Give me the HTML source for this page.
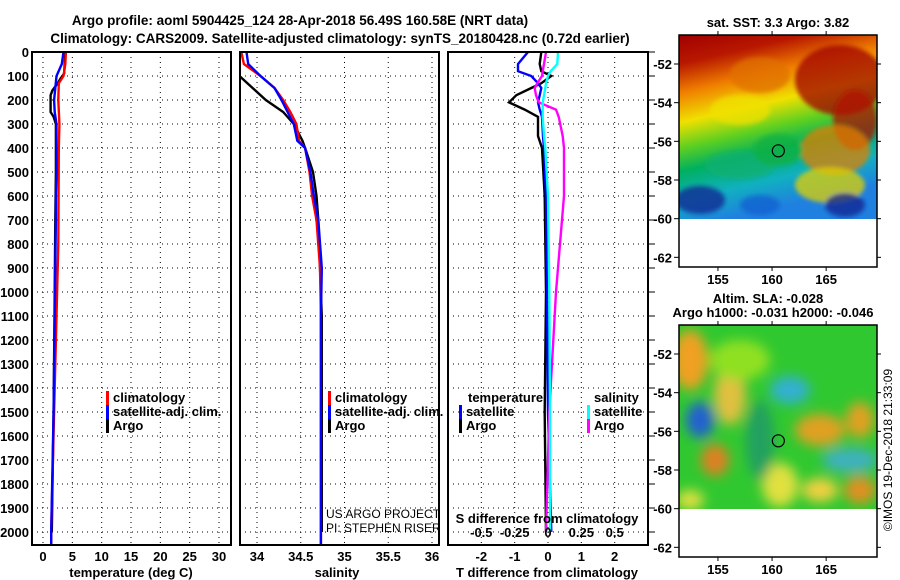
<!DOCTYPE html>
<html><head><meta charset="utf-8"><style>
html,body{margin:0;padding:0;background:#fff;}
svg{display:block;font-family:"Liberation Sans",sans-serif;}
.b{font-weight:bold;}
</style></head><body>
<svg id="fig" width="900" height="580" viewBox="0 0 900 580" xmlns="http://www.w3.org/2000/svg">
<defs>
<filter id="blur" x="-20%" y="-20%" width="140%" height="140%"><feGaussianBlur stdDeviation="6"/></filter>
<filter id="blur2" x="-20%" y="-20%" width="140%" height="140%"><feGaussianBlur stdDeviation="2"/></filter>
<linearGradient id="sstg" x1="0" y1="0" x2="0.25" y2="1">
<stop offset="0" stop-color="#a00000"/><stop offset="0.15" stop-color="#b81800"/>
<stop offset="0.3" stop-color="#f08000"/><stop offset="0.45" stop-color="#f0e000"/>
<stop offset="0.58" stop-color="#60d020"/><stop offset="0.7" stop-color="#00b060"/>
<stop offset="0.85" stop-color="#10b0c0"/><stop offset="1" stop-color="#2080e0"/>
</linearGradient>
<clipPath id="c1"><rect x="679" y="35" width="198" height="184"/></clipPath>
<clipPath id="c2"><rect x="679" y="325" width="198" height="184"/></clipPath>
</defs>
<text class="b" x="300" y="25" font-size="13.5" text-anchor="middle">Argo profile: aoml 5904425_124 28-Apr-2018 56.49S 160.58E (NRT data)</text>
<text class="b" x="340" y="43" font-size="13.5" text-anchor="middle">Climatology: CARS2009. Satellite-adjusted climatology: synTS_20180428.nc (0.72d earlier)</text>
<g id="g"></g>
</svg>
<script>
// ---- data ----
const tDepth = [0,50,90,110,130,160,180,250,270,300,500,700,1000,1500,2000];
const tArgo  = [3.8,3.7,3.6,3.0,2.5,1.6,1.3,1.3,1.8,2.2,2.2,2.1,2.0,1.8,1.5];
const cDepth = [0,50,100,130,200,300,400,800,1000,1500,2000,2050];
const tClim  = [3.9,3.8,3.5,2.7,2.6,2.8,2.7,2.6,2.4,1.9,1.4,1.4];
const sDepth = [0,50,100,150,200,250,300,370,400,500,600,700,900,1100,1500,2000,2050];
const tSat   = [3.5,3.2,2.3,2.1,1.9,2.0,2.3,2.3,2.3,2.3,2.2,2.2,2.1,2.0,1.8,1.4,1.4];
const aDepth = [0,100,150,200,250,300,370,400,500,600,700,900,1100,1500,2000];
const sArgo  = [33.8,33.8,33.95,34.1,34.3,34.42,34.52,34.55,34.64,34.68,34.7,34.72,34.74,34.74,34.74];
const sClim  = [33.82,33.85,34.04,34.2,34.3,34.38,34.45,34.48,34.55,34.6,34.63,34.68,34.72,34.73,34.73,34.73,34.73];
const sSat   = [33.88,33.9,34.04,34.2,34.28,34.35,34.42,34.46,34.55,34.61,34.65,34.7,34.74,34.73,34.73,34.73,34.73];
const dDepth = [0,50,80,100,130,150,180,210,240,270,350,400,600,1000,1500,2000];
const dtArgo = [-0.2,-0.25,-0.2,0.1,-0.2,-0.5,-0.95,-1.17,-0.7,-0.3,-0.3,-0.18,-0.1,-0.06,-0.1,-0.06];
const dtSat  = [-0.6,-0.9,-0.9,-0.5,-0.3,-0.2,-0.25,-0.3,-0.25,-0.18,-0.15,-0.12,-0.06,-0.03,0.0,0.1];
const dsArgo = [-0.015,-0.03,-0.04,-0.045,-0.08,-0.1,-0.09,-0.07,0.06,0.08,0.11,0.12,0.12,0.06,0.01,-0.015];
const dsSat  = [0.075,0.07,0.02,0.0,-0.015,-0.02,-0.03,-0.04,-0.04,-0.04,-0.03,-0.02,0.0,0.01,0.015,0.015];
const depthTicks = [0,100,200,300,400,500,600,700,800,900,1000,1100,1200,1300,1400,1500,1600,1700,1800,1900,2000];
const tTicks = [0,5,10,15,20,25,30];
const sTicks = [34,34.5,35,35.5,36];
const sTickLabels = ["34","34.5","35","35.5","36"];
const dTicks = [-2,-1,0,1,2];
const dsTicks = [-0.5,-0.25,0,0.25,0.5];
const dsTickLabels = ["-0.5","-0.25","0","0.25","0.5"];
const lonTicks = [155,160,165];
const latTicks = [-52,-54,-56,-58,-60,-62];
const floatPos = [160.58,-56.49];

// ---- helpers ----
const NS="http://www.w3.org/2000/svg";
const G=document.getElementById('g');
function mk(tag,attrs,parent){const e=document.createElementNS(NS,tag);for(const k in attrs)e.setAttribute(k,attrs[k]);(parent||G).appendChild(e);return e;}
const Y0=52, YB=545;
function yD(d){return Y0+d*0.2400;}
function linear(d0,d1,r0,r1){return v=>r0+(v-d0)/(d1-d0)*(r1-r0);}
const xT=linear(0,30,43,219);
const xS=linear(34,36,257,432);
const xD=linear(-3,3,448,648);
const xDS=v=>xD(v*4);

function panel(name){
  const g=mk('g',{});
  
  
  return g;
}
function hgrid(g,x0,x1){
  depthTicks.forEach(d=>{
    const l=mk('line',{x1:x0,x2:x1,y1:yD(d),y2:yD(d),stroke:'#000','stroke-width':1,'stroke-dasharray':'1 4'},g);
    
    
  });
}
function vgrid(g,xs){
  xs.forEach(x=>{
    const l=mk('line',{x1:x,x2:x,y1:Y0,y2:YB,stroke:'#000','stroke-width':1,'stroke-dasharray':'1 4'},g);
    
    
  });
}
function frame(g,x0,x1,name){
  const r=mk('rect',{x:x0,y:Y0,width:x1-x0,height:YB-Y0,fill:'none',stroke:'#000','stroke-width':2},g);
  
  
}
function line(g,xs,ds,xf,color,name,clip){
  const pts=xs.map((v,i)=>xf(v).toFixed(1)+','+yD(ds[i]).toFixed(1)).join(' ');
  const p=mk('polyline',{points:pts,fill:'none',stroke:color,'stroke-width':2.4},g);
  if(clip)p.setAttribute('clip-path',clip);
  
  
}
function text(g,x,y,s,opts,name){
  const t=mk('text',Object.assign({x:x,y:y,'font-size':13,'font-weight':'bold'},opts||{}),g);
  t.textContent=s;
  
  
  return t;
}
function legend(g,x,y,items){
  items.forEach((it,i)=>{
    const r=mk('rect',{x:x,y:y+i*14-11,width:3,height:14,fill:it[1]},g);
    
    
    text(g,x+7,y+i*14,it[0],{},'legend-entry-'+it[2]);
  });
}

const defs=document.querySelector('defs');
[['p1',32,231],['p2',240,439],['p3',448,648]].forEach(c=>{
  const cp=mk('clipPath',{id:c[0]},defs);mk('rect',{x:c[1],y:Y0,width:c[2]-c[1],height:YB-Y0},cp);
});

// ---- panel 1 temperature ----
const p1=panel('temperature-panel');
hgrid(p1,32,231);vgrid(p1,tTicks.map(xT));
line(p1,tArgo,tDepth,xT,'#000','argo-temperature-line','url(#p1)');
line(p1,tClim,cDepth,xT,'#f00','climatology-temperature-line','url(#p1)');
line(p1,tSat,sDepth,xT,'#00f','satellite-temperature-line','url(#p1)');
frame(p1,32,231,'temperature-plot-frame');
depthTicks.forEach(d=>text(p1,29,yD(d)+5,String(d),{'text-anchor':'end'},'depth-tick-label'));
tTicks.forEach(v=>text(p1,xT(v),561,String(v),{'text-anchor':'middle'},'temperature-tick-label'));
text(p1,131,577,'temperature (deg C)',{'text-anchor':'middle'},'temperature-axis-title');
legend(p1,106,402,[['climatology','#f00','climatology'],['satellite-adj. clim.','#00f','satellite'],['Argo','#000','argo']]);

// ---- panel 2 salinity ----
const p2=panel('salinity-panel');
hgrid(p2,240,439);vgrid(p2,sTicks.map(xS));
line(p2,sArgo,aDepth,xS,'#000','argo-salinity-line','url(#p2)');
line(p2,sClim,sDepth,xS,'#f00','climatology-salinity-line','url(#p2)');
line(p2,sSat,sDepth,xS,'#00f','satellite-salinity-line','url(#p2)');
frame(p2,240,439,'salinity-plot-frame');
sTicks.forEach((v,i)=>text(p2,xS(v),561,sTickLabels[i],{'text-anchor':'middle'},'salinity-tick-label'));
text(p2,337,577,'salinity',{'text-anchor':'middle'},'salinity-axis-title');
legend(p2,328,402,[['climatology','#f00','climatology'],['satellite-adj. clim.','#00f','satellite'],['Argo','#000','argo']]);
text(p2,326,518,'US ARGO PROJECT',{'font-weight':'normal','font-size':12},'project-credit');
text(p2,326,532,'PI: STEPHEN RISER',{'font-weight':'normal','font-size':12},'pi-credit');

// ---- panel 3 differences ----
const p3=panel('difference-panel');
hgrid(p3,448,648);vgrid(p3,dTicks.map(xD));
line(p3,dtArgo,dDepth,xD,'#000','argo-temperature-difference-line','url(#p3)');
line(p3,dtSat,dDepth,xD,'#00f','satellite-temperature-difference-line','url(#p3)');
line(p3,dsArgo,dDepth,xDS,'#f0f','argo-salinity-difference-line','url(#p3)');
line(p3,dsSat,dDepth,xDS,'#0ff','satellite-salinity-difference-line','url(#p3)');
frame(p3,448,648,'difference-plot-frame');
depthTicks.forEach(d=>{const l=mk('line',{x1:648,x2:655,y1:yD(d),y2:yD(d),stroke:'#000','stroke-width':1},p3);});
dTicks.forEach(v=>text(p3,xD(v),561,String(v),{'text-anchor':'middle'},'t-difference-tick-label'));
dsTicks.forEach((v,i)=>text(p3,xDS(v),537,dsTickLabels[i],{'text-anchor':'middle'},'s-difference-tick-label'));
text(p3,547,523,'S difference from climatology',{'text-anchor':'middle'},'s-difference-axis-title');
text(p3,547,577,'T difference from climatology',{'text-anchor':'middle'},'t-difference-axis-title');
text(p3,468,402,'temperature',{},'temperature-legend-heading');
text(p3,594,402,'salinity',{},'salinity-legend-heading');
legend(p3,459,416,[['satellite','#00f','t-satellite'],['Argo','#000','t-argo']]);
legend(p3,587,416,[['satellite','#0ff','s-satellite'],['Argo','#f0f','s-argo']]);

// ---- maps ----
const MX0=679,MX1=877;
const xLon=linear(151.4,169.7,MX0,MX1);
function mapAxes(g,top,name){
  const yLat=linear(-50.5,-62.5,top,top+232);
  const r=mk('rect',{x:MX0,y:top,width:MX1-MX0,height:232,fill:'none',stroke:'#000','stroke-width':1.5},g);
  
  latTicks.forEach(v=>{
    [[MX0-5,MX0],[MX1,MX1+4]].forEach(s=>{const l=mk('line',{x1:s[0],x2:s[1],y1:yLat(v),y2:yLat(v),stroke:'#000'},g);});
    text(g,672,yLat(v)+5,String(v),{'text-anchor':'end'},'latitude-tick-label');
  });
  lonTicks.forEach(v=>{
    [[top,top-4],[top+232,top+236]].forEach(s=>{const l=mk('line',{x1:xLon(v),x2:xLon(v),y1:s[0],y2:s[1],stroke:'#000'},g);});
    text(g,xLon(v),top+249,String(v),{'text-anchor':'middle'},'longitude-tick-label');
  });
  const c=mk('circle',{cx:xLon(floatPos[0]),cy:yLat(floatPos[1]),r:6,fill:'none',stroke:'#000','stroke-width':1.2},g);
  
}
// SST map
const m1=panel('sst-map');
let bg=mk('rect',{x:MX0,y:35,width:198,height:184,fill:'url(#sstg)'},m1);

const sst=mk('g',{'clip-path':'url(#c1)',filter:'url(#blur2)'},m1);
[[840,80,45,35,'#a00000'],[855,120,22,30,'#b01000'],[835,150,35,25,'#e08000'],[830,185,35,18,'#e0d000'],[700,200,25,14,'#102090'],[760,205,20,10,'#1060d0'],[845,205,20,12,'#102090'],[740,165,35,14,'#10b070'],[778,150,25,16,'#10b040'],[740,110,30,15,'#f0e000'],[760,75,30,18,'#e07000']].forEach(b=>{
  const e=mk('ellipse',{cx:b[0],cy:b[1],rx:b[2],ry:b[3],fill:b[4],opacity:0.75},sst);
  
});
mapAxes(m1,35,'sst-map');
text(m1,778,27,'sat. SST: 3.3 Argo: 3.82',{'text-anchor':'middle'},'sst-map-title');
// altimetry map
const m2=panel('sla-map');
bg=mk('rect',{x:MX0,y:325,width:198,height:184,fill:'#30c830'},m2);

const sla=mk('g',{'clip-path':'url(#c2)',filter:'url(#blur)'},m2);
[[690,360,18,30,'#f0a020'],[700,420,14,18,'#2060d0'],[730,395,16,30,'#e0c040'],[715,460,14,16,'#e08020'],[790,390,20,14,'#30b0d0'],[740,360,30,20,'#90e020'],[820,430,25,16,'#e0a020'],[860,420,14,18,'#e0a020'],[850,460,28,12,'#40b0c0'],[860,490,16,14,'#e09020'],[780,485,18,22,'#e0e040'],[820,490,18,12,'#f0d040'],[760,440,14,40,'#20a060'],[690,500,14,10,'#e0e040']].forEach(b=>{
  const e=mk('ellipse',{cx:b[0],cy:b[1],rx:b[2],ry:b[3],fill:b[4]},sla);
  
});
mapAxes(m2,325,'sla-map');
text(m2,768,303,'Altim. SLA: -0.028',{'text-anchor':'middle'},'sla-map-title');
text(m2,773,317,'Argo h1000: -0.031 h2000: -0.046',{'text-anchor':'middle'},'sla-map-subtitle');
text(m2,892,450,'©IMOS 19-Dec-2018 21:33:09',{'font-weight':'normal','font-size':12,'text-anchor':'middle',transform:'rotate(-90 892 450)'},'imos-timestamp');
</script>
</body></html>
